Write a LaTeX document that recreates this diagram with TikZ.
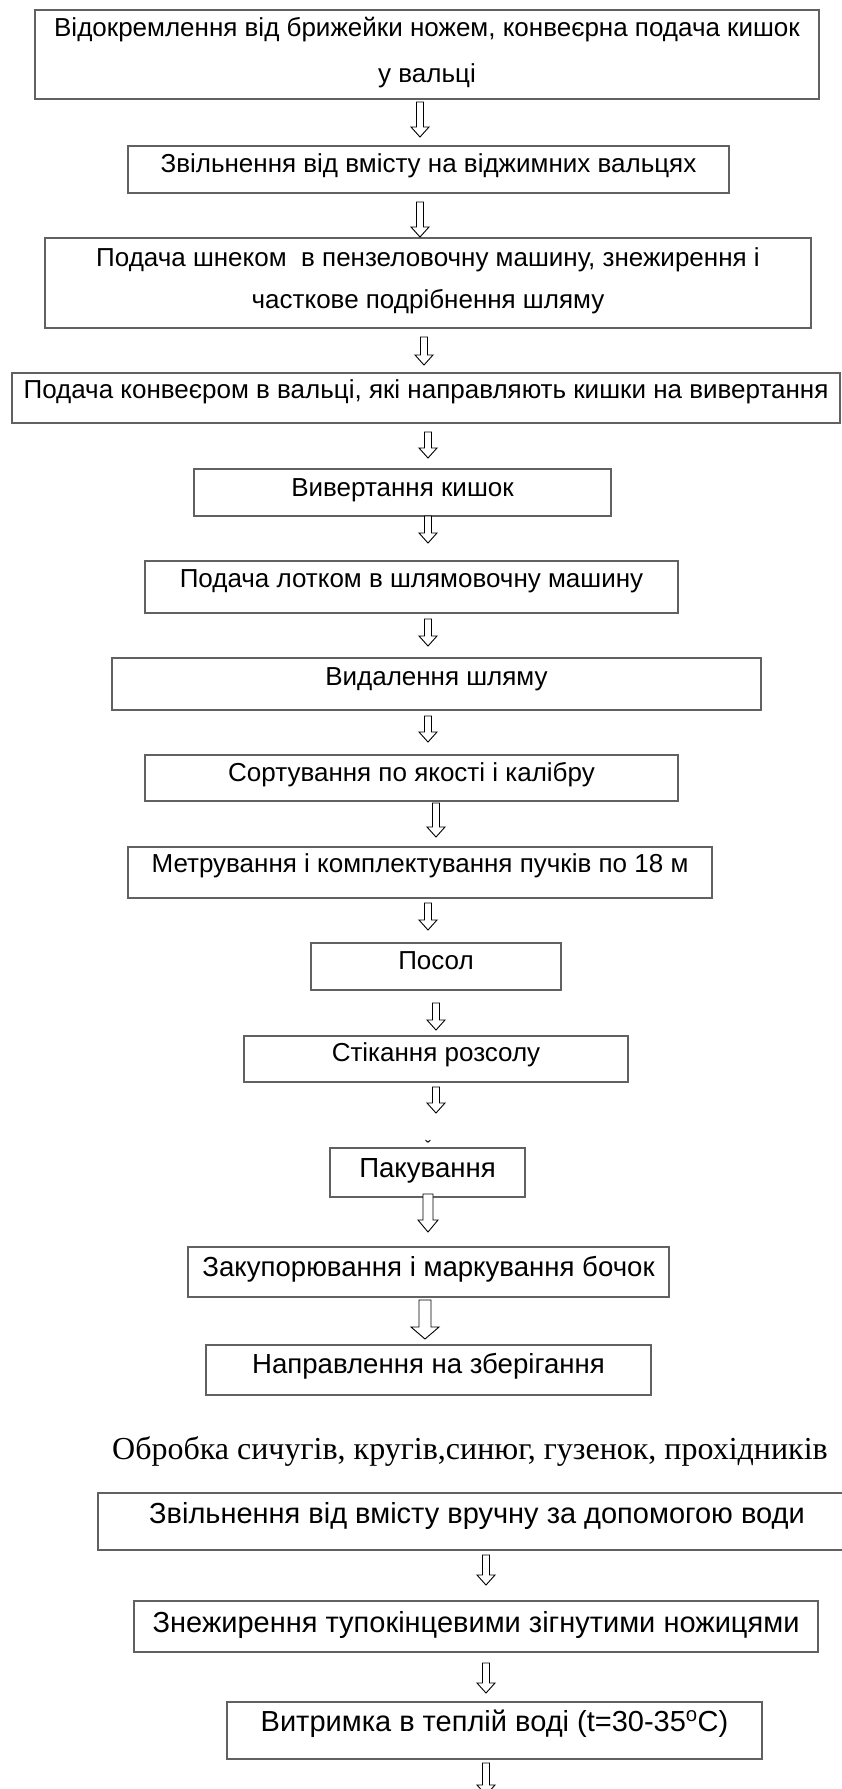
\documentclass[tikz,border=0pt]{standalone}
\usepackage{fontspec}
\setmainfont{Liberation Serif}
\newfontfamily\sansf{Liberation Sans}
\usetikzlibrary{calc}
\newcommand\mybox[5]{%
  \node[box,anchor=north west,minimum width={(#4-#2)*1pt},minimum height={(#5-#3)*1pt}] (#1) at (#2,#3) {};}
% name, x, ytop, ybottom, shaft width, head width, head length
\newcommand\blk[7]{%
  \coordinate (#1s) at (#2,#3);
  \coordinate (#1e) at (#2,#4);
  \draw[harrow] ($(#1s)+({-#5/2},0)$) -- ($(#1s)+({#5/2},0)$) -- ($(#1e)+({#5/2},{-#7})$)
    -- ($(#1e)+({#6/2},{-#7})$) -- (#1e) -- ($(#1e)+({-#6/2},{-#7})$) -- ($(#1e)+({-#5/2},{-#7})$) -- cycle;}
\begin{document}
\begin{tikzpicture}[x=1pt,y=-1pt,
  box/.style={draw=black!62,line width=1.2pt,rectangle,inner sep=0pt,outer sep=0pt},
  txt/.style={font=\sansf\fontsize{26}{30}\selectfont,anchor=base,inner sep=0pt},
  txtb/.style={font=\sansf\fontsize{27.6}{32}\selectfont,anchor=base,inner sep=0pt},
  txtc/.style={font=\sansf\fontsize{29}{34}\selectfont,anchor=base,inner sep=0pt},
  ttl/.style={font=\fontsize{32}{38}\selectfont,anchor=base,inner sep=0pt},
  harrow/.style={draw=black,line width=0.9pt,fill=white,line join=miter}]
\useasboundingbox (0,0) rectangle (842,1789);

% boxes
\mybox{b1}{35}{10}{819}{99}
\mybox{b2}{128}{146}{729}{193}
\mybox{b3}{45}{238}{811}{328}
\mybox{b4}{12}{373}{840}{423}
\mybox{b5}{194}{469}{611}{516}
\mybox{b6}{145}{561}{678}{613}
\mybox{b7}{112}{658}{761}{710}
\mybox{b8}{145}{755}{678}{801}
\mybox{b9}{128}{847}{712}{898}
\mybox{b10}{311}{943}{561}{990}
\mybox{b11}{244}{1036}{628}{1082}
\mybox{b12}{330}{1148}{525}{1197}
\mybox{b13}{188}{1247}{669}{1297}
\mybox{b14}{206}{1345}{651}{1395}
\mybox{b15}{98}{1493}{856}{1550}
\mybox{b16}{134}{1601}{818}{1652}
\mybox{b17}{227}{1702}{762}{1759}

% texts
\node[txt] (t1a) at (427,36) {Відокремлення від брижейки ножем, конвеєрна подача кишок};
\node[txt] (t1b) at (427,82) {у вальці};
\node[txt] (t2) at (428.5,172) {Звільнення від вмісту на віджимних вальцях};
\node[txt] (t3a) at (428,266) {Подача шнеком\ \ в пензеловочну машину, знежирення і};
\node[txt] (t3b) at (428,308) {часткове подрібнення шляму};
\node[txt] (t4) at (426,398) {Подача конвеєром в вальці, які направляють кишки на вивертання};
\node[txt] (t5) at (402.5,496) {Вивертання кишок};
\node[txt] (t6) at (411.5,587) {Подача лотком в шлямовочну машину};
\node[txt] (t7) at (436.5,685) {Видалення шляму};
\node[txt] (t8) at (411.5,781) {Сортування по якості і калібру};
\node[txt] (t9) at (420,872) {Метрування і комплектування пучків по 18 м};
\node[txt] (t10) at (436,969) {Посол};
\node[txt] (t11) at (436,1061) {Стікання розсолу};
\node[txtb] (t12) at (427.5,1177) {Пакування};
\node[txtb] (t13) at (428.5,1276) {Закупорювання і маркування бочок};
\node[txtb] (t14) at (428.5,1373) {Направлення на зберігання};
\node[ttl] (title) at (470,1459) {Обробка сичугів, кругів,синюг, гузенок, прохідників};
\node[txtc] (t15) at (477,1523) {Звільнення від вмісту вручну за допомогою води};
\node[txtc] (t16) at (476,1632) {Знежирення тупокінцевими зігнутими ножицями};
\node[txtc] (t17) at (494.5,1731) {Витримка в теплій воді (t=30-35\textsuperscript{o}C)};
\node[font=\sansf\fontsize{18}{20}\selectfont,anchor=base,inner sep=0pt] (mark) at (428,1153) {ˇ};

% arrows
\blk{a1}{420}{102}{137}{7}{18}{10}
\blk{a2}{420}{202}{237}{7}{18}{10}
\blk{a3}{424}{337}{365}{7}{18}{10}
\blk{a4}{428}{432}{458}{7}{18}{10}
\blk{a5}{428}{516}{543}{7}{18}{10}
\blk{a6}{428}{619}{646}{7}{18}{10}
\blk{a7}{428}{716}{742}{7}{18}{10}
\blk{a8}{436}{803}{837}{7}{18}{10}
\blk{a9}{428}{903}{930}{7}{18}{10}
\blk{a10}{436}{1003}{1030}{7}{18}{10}
\blk{a11}{436}{1087}{1113}{7}{18}{10}
\blk{a12}{428}{1194}{1232}{10}{20}{12}
\blk{a13}{425}{1300}{1339}{12}{28}{12}
\blk{a15}{486}{1555}{1585}{7}{18}{10}
\blk{a16}{486}{1663}{1693}{7}{18}{10}
\blk{a17}{486}{1763}{1795}{7}{18}{10}
\end{tikzpicture}
\end{document}
